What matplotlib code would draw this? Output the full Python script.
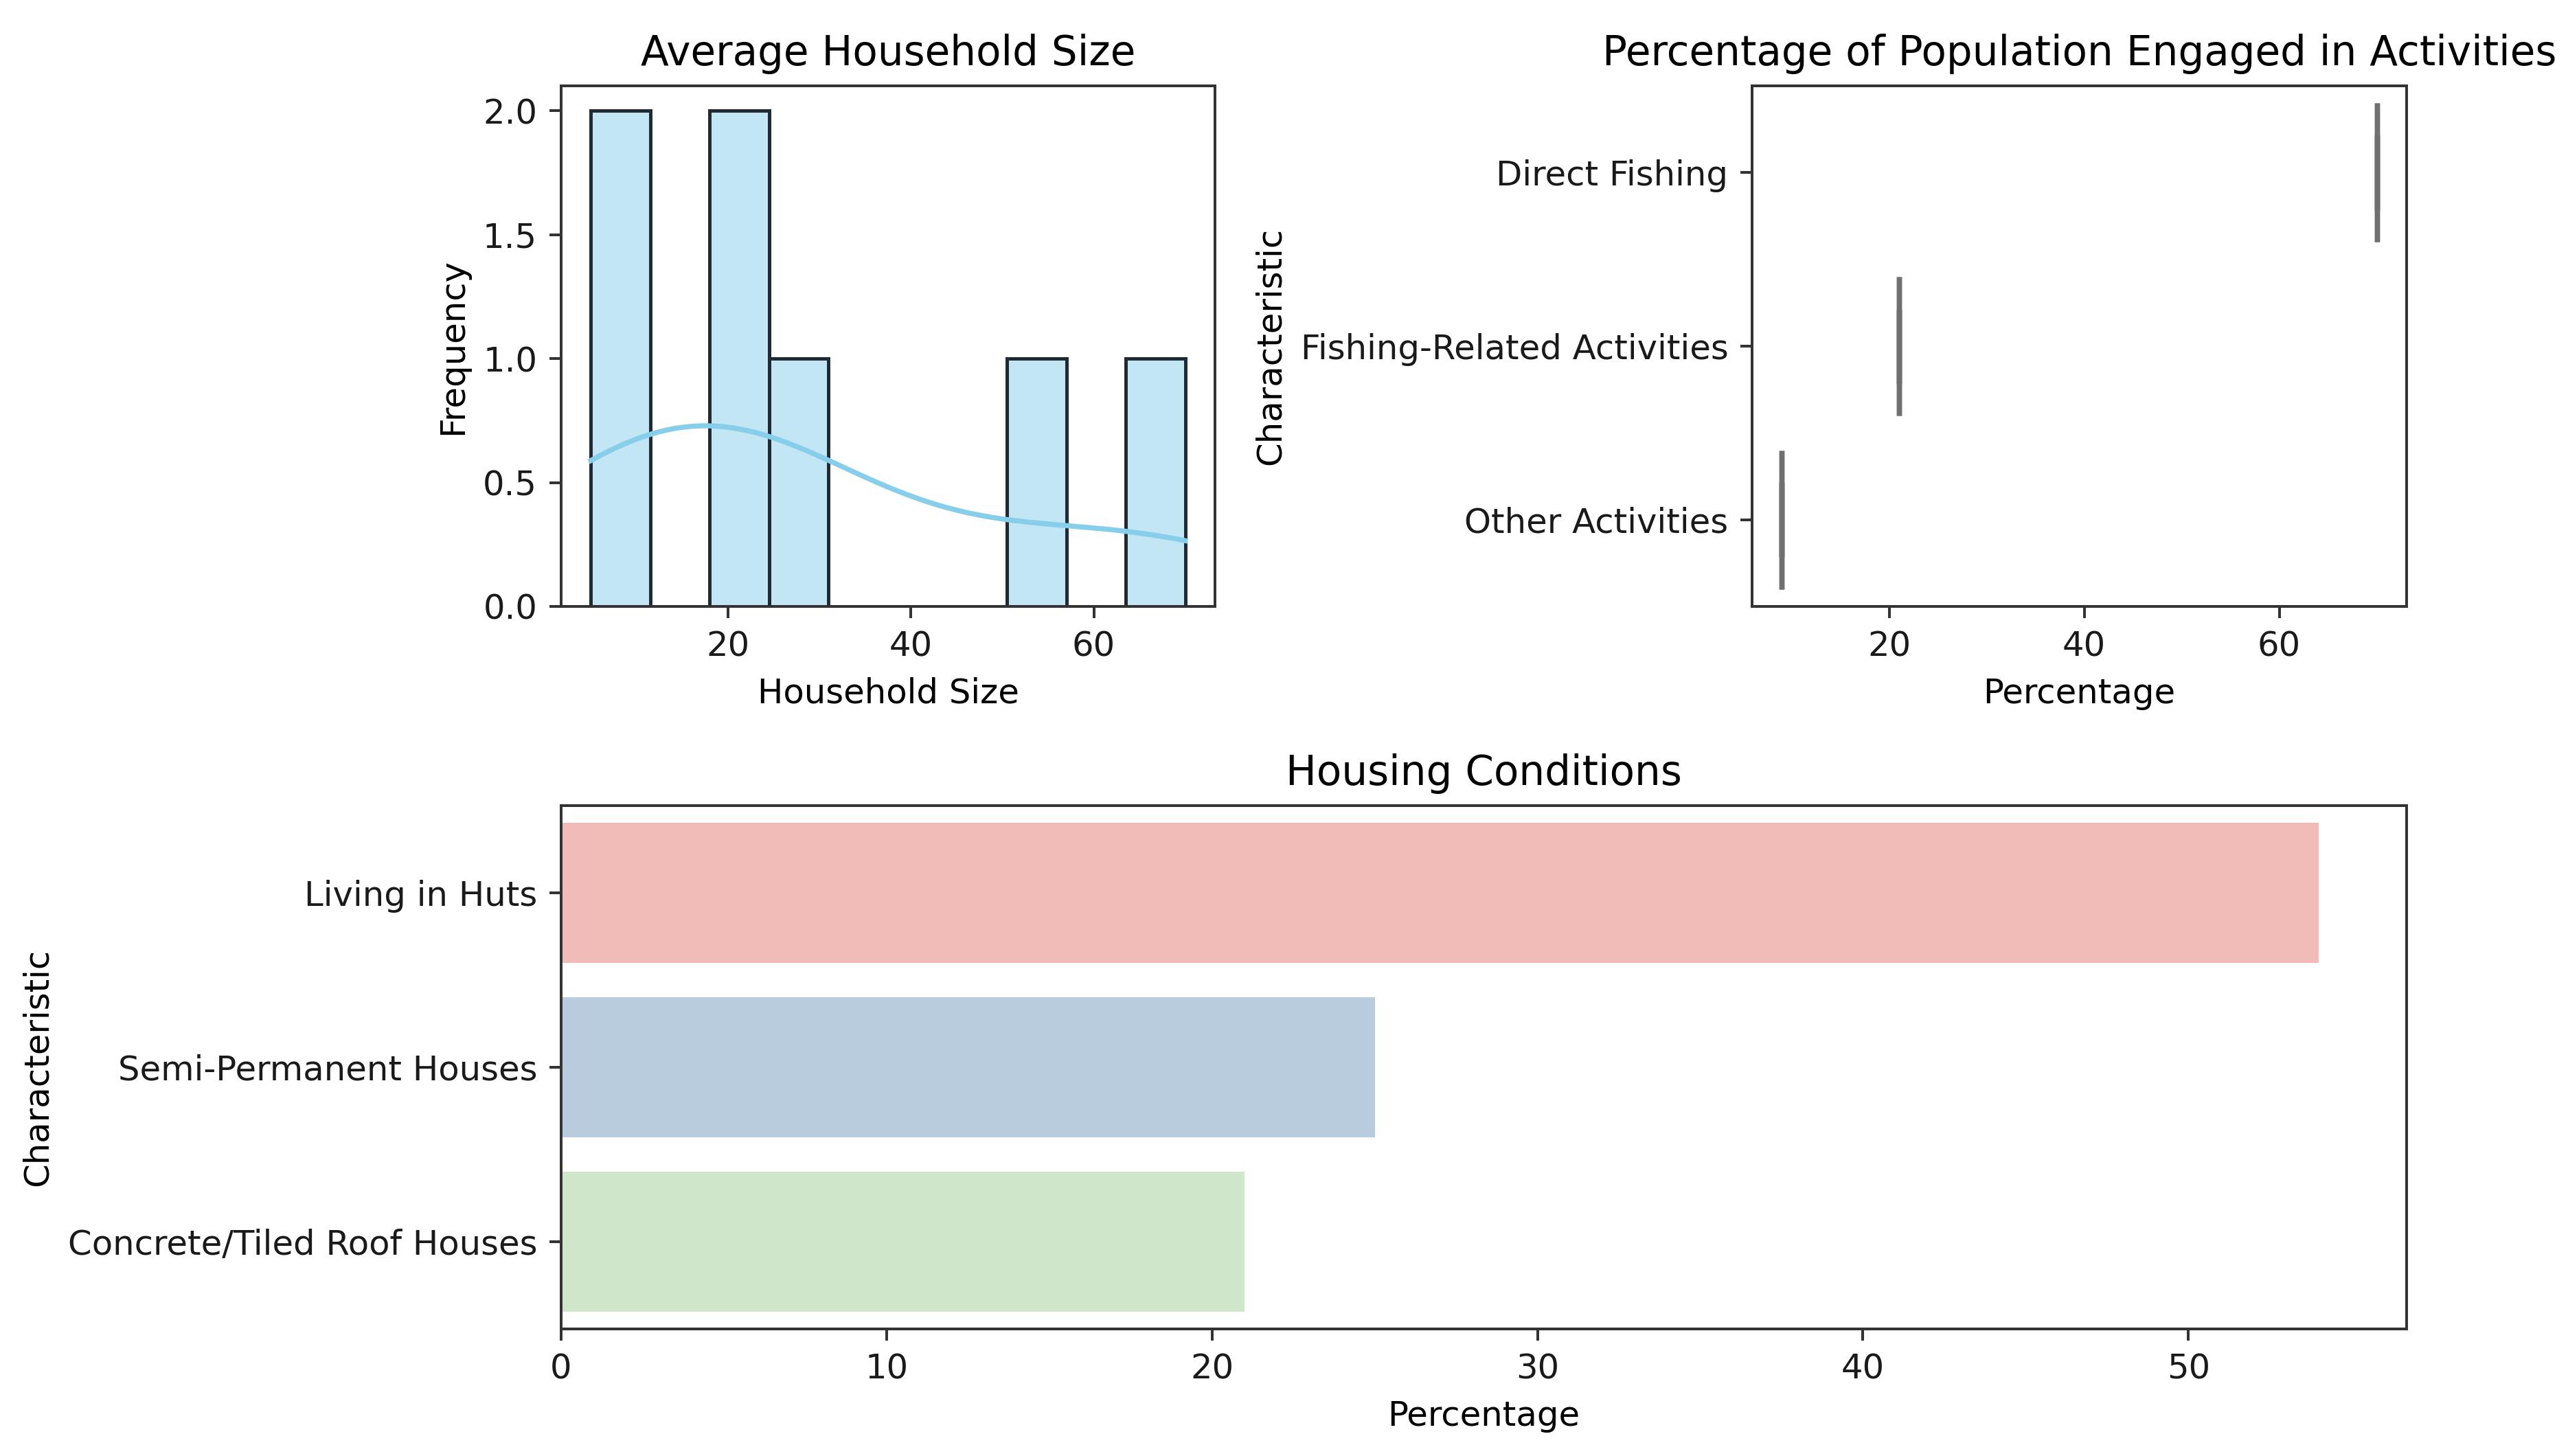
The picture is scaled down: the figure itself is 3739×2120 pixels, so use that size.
import matplotlib
matplotlib.use("Agg")
import matplotlib.pyplot as plt
import seaborn as sns
import pandas as pd

# values
household_sizes = [70, 21, 9, 54, 25, 21, 5]

activity_names = ["Direct Fishing", "Fishing-Related Activities", "Other Activities"]
activity_values = [70, 21, 9]

housing_names = ["Living in Huts", "Semi-Permanent Houses", "Concrete/Tiled Roof Houses"]
housing_values = [54, 25, 21]

activities = pd.DataFrame({"Characteristic": activity_names, "Percentage": activity_values})
housing = pd.DataFrame({"Characteristic": housing_names, "Percentage": housing_values})

plt.rcParams["axes.edgecolor"] = "#333333"
plt.rcParams["xtick.color"] = "#333333"
plt.rcParams["ytick.color"] = "#333333"
plt.rcParams["xtick.labelcolor"] = "#1a1a1a"
plt.rcParams["ytick.labelcolor"] = "#1a1a1a"

DPI = 358
fig = plt.figure(figsize=(3739 / DPI, 2120 / DPI), dpi=DPI)
ax1 = fig.add_axes([0.2185, 0.5835, 0.4731 - 0.2185, 0.9410 - 0.5835])
ax2 = fig.add_axes([0.6823, 0.5835, 0.9371 - 0.6823, 0.9410 - 0.5835])
ax3 = fig.add_axes([0.2185, 0.0873, 0.9371 - 0.2185, 0.4467 - 0.0873])

# household size histogram
sns.histplot(household_sizes, bins=10, kde=True, color="skyblue", alpha=0.5,
             edgecolor="#1f2a33", ax=ax1)
ax1.set_title("Average Household Size")
ax1.set_xlabel("Household Size")
ax1.set_ylabel("Frequency")

# activities (one value per row, so boxes collapse to lines)
sns.boxplot(data=activities, x="Percentage", y="Characteristic",
            linecolor="#707070", linewidth=1.5, ax=ax2)
ax2.set_title("Percentage of Population Engaged in Activities")

# housing conditions
sns.barplot(data=housing, x="Percentage", y="Characteristic", hue="Characteristic",
            palette="Pastel1", legend=False, ax=ax3)
ax3.set_title("Housing Conditions")

fig.savefig("out.png", dpi=DPI)
